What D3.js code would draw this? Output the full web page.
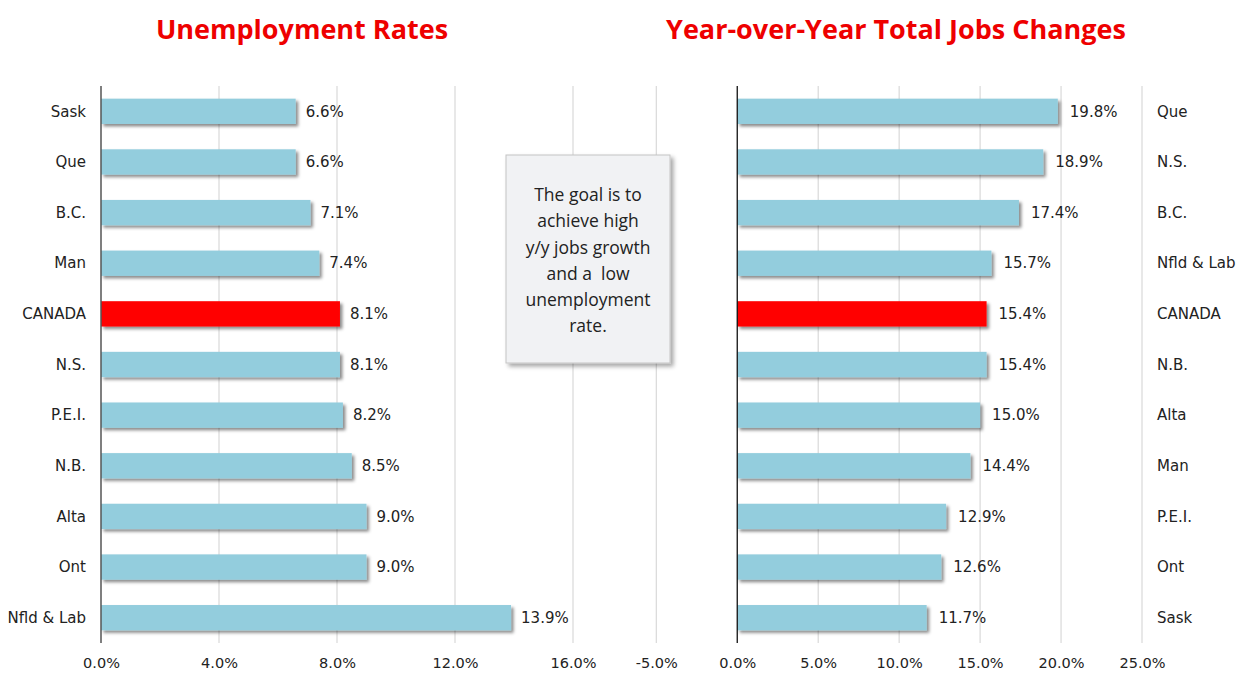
<!DOCTYPE html>
<html><head><meta charset="utf-8">
<script src="https://cdn.jsdelivr.net/npm/d3@7"></script>
<style>body{margin:0;background:#fff;}svg{display:block;}</style>
</head><body>
<svg id="c" width="1238" height="673"></svg>
<script>
const leftCats = ["Sask","Que","B.C.","Man","CANADA","N.S.","P.E.I.","N.B.","Alta","Ont","Nfld & Lab"];
const leftVals = [6.6,6.6,7.1,7.4,8.1,8.1,8.2,8.5,9.0,9.0,13.9];
const rightCats = ["Que","N.S.","B.C.","Nfld & Lab","CANADA","N.B.","Alta","Man","P.E.I.","Ont","Sask"];
const rightVals = [19.8,18.9,17.4,15.7,15.4,15.4,15.0,14.4,12.9,12.6,11.7];
const leftTicks = [0,4,8,12,16];
const rightTicks = [-5,0,5,10,15,20,25];
const titles = ["Unemployment Rates","Year-over-Year Total Jobs Changes"];
const noteLines = ["The goal is to","achieve high","y/y jobs growth","and a  low","unemployment","rate."];

const svg = d3.select("#c");
const FONT = "'DejaVu Sans', sans-serif";
const defs = svg.append("defs");
const f = defs.append("filter").attr("id","sh").attr("x","-5%").attr("y","-30%").attr("width","115%").attr("height","190%");
f.append("feDropShadow").attr("dx",2.5).attr("dy",2.5).attr("stdDeviation",1.6).attr("flood-color","#000").attr("flood-opacity",0.45);
const f2 = defs.append("filter").attr("id","sh2").attr("x","-10%").attr("y","-10%").attr("width","125%").attr("height","125%");
f2.append("feDropShadow").attr("dx",3).attr("dy",3).attr("stdDeviation",2).attr("flood-color","#000").attr("flood-opacity",0.35);

const plotTop = 86, plotBottom = 643;
const yL = d3.scaleBand().domain(leftCats).range([plotTop,plotBottom]).paddingInner(0.5).paddingOuter(0.25);
const yR = d3.scaleBand().domain(rightCats).range([plotTop,plotBottom]).paddingInner(0.5).paddingOuter(0.25);
const xL = d3.scaleLinear().domain([0,16]).range([101,573]);
const xR = d3.scaleLinear().domain([-5,25]).range([656.3,1142]);
const blue = "#93cddd", red = "#ff0000";

// gridlines
svg.append("g").selectAll("line").data(leftTicks.filter(d=>d!==0)).join("line")
  .attr("x1",d=>xL(d)).attr("x2",d=>xL(d)).attr("y1",plotTop).attr("y2",plotBottom)
  .attr("stroke","#d9d9d9").attr("stroke-width",1.2);
svg.append("g").selectAll("line").data(rightTicks.filter(d=>d!==0)).join("line")
  .attr("x1",d=>xR(d)).attr("x2",d=>xR(d)).attr("y1",plotTop).attr("y2",plotBottom)
  .attr("stroke","#d9d9d9").attr("stroke-width",1.2);

// axes tick labels
const axL = d3.axisBottom(xL).tickValues(leftTicks).tickSize(0).tickFormat(d=>d.toFixed(1)+"%");
const gxL = svg.append("g").attr("transform",`translate(0,${plotBottom})`).call(axL);
const axR = d3.axisBottom(xR).tickValues(rightTicks).tickSize(0).tickFormat(d=>d.toFixed(1)+"%");
const gxR = svg.append("g").attr("transform",`translate(0,${plotBottom})`).call(axR);
[gxL,gxR].forEach(g=>{g.select(".domain").remove();
  g.selectAll("text").attr("dy",0).attr("y",25).attr("font-size",14.5).attr("font-family",FONT).attr("fill","#222");});

// bars
svg.append("g").selectAll("rect").data(leftCats).join("rect")
  .attr("x",xL(0)).attr("y",d=>yL(d)).attr("width",(d,i)=>xL(leftVals[i])-xL(0)).attr("height",yL.bandwidth())
  .attr("fill",d=>d==="CANADA"?red:blue).attr("filter","url(#sh)");
svg.append("g").selectAll("rect").data(rightCats).join("rect")
  .attr("x",xR(0)).attr("y",d=>yR(d)).attr("width",(d,i)=>xR(rightVals[i])-xR(0)).attr("height",yR.bandwidth())
  .attr("fill",d=>d==="CANADA"?red:blue).attr("filter","url(#sh)");

// value labels
svg.append("g").selectAll("text").data(leftCats).join("text")
  .attr("x",(d,i)=>xL(leftVals[i])+10).attr("y",d=>yL(d)+yL.bandwidth()/2).attr("dy","0.35em")
  .attr("font-size",15).attr("font-family",FONT).attr("fill","#222").text((d,i)=>leftVals[i].toFixed(1)+"%");
svg.append("g").selectAll("text").data(rightCats).join("text")
  .attr("x",(d,i)=>xR(rightVals[i])+12).attr("y",d=>yR(d)+yR.bandwidth()/2).attr("dy","0.35em")
  .attr("font-size",15).attr("font-family",FONT).attr("fill","#222").text((d,i)=>rightVals[i].toFixed(1)+"%");

// category labels
svg.append("g").selectAll("text").data(leftCats).join("text")
  .attr("x",86).attr("y",d=>yL(d)+yL.bandwidth()/2).attr("dy","0.35em").attr("text-anchor","end")
  .attr("font-size",15).attr("font-family",FONT).attr("fill","#222").text(d=>d);
svg.append("g").selectAll("text").data(rightCats).join("text")
  .attr("x",1157).attr("y",d=>yR(d)+yR.bandwidth()/2).attr("dy","0.35em")
  .attr("font-size",15).attr("font-family",FONT).attr("fill","#222").text(d=>d);

// axis lines
svg.append("line").attr("x1",xL(0)).attr("x2",xL(0)).attr("y1",plotTop).attr("y2",plotBottom).attr("stroke","#555").attr("stroke-width",1.5);
svg.append("line").attr("x1",xR(0)).attr("x2",xR(0)).attr("y1",plotTop).attr("y2",plotBottom).attr("stroke","#111").attr("stroke-width",1.3);

// titles
svg.append("text").attr("x",302).attr("y",39).attr("text-anchor","middle").attr("font-size",27).attr("font-weight","bold")
  .attr("font-family","'Open Sans', sans-serif").attr("fill","#ee0000").text(titles[0]);
svg.append("text").attr("x",896).attr("y",39).attr("text-anchor","middle").attr("font-size",27).attr("font-weight","bold")
  .attr("font-family","'Open Sans', sans-serif").attr("fill","#ee0000").text(titles[1]);

// note box
svg.append("rect").attr("x",506).attr("y",155).attr("width",164).attr("height",208)
  .attr("fill","#f1f2f4").attr("stroke","#c4c4c4").attr("stroke-width",1).attr("filter","url(#sh2)");
svg.append("g").selectAll("text").data(noteLines).join("text")
  .attr("x",588).attr("y",(d,i)=>195+i*26.2).attr("dy","0.35em").attr("text-anchor","middle")
  .style("white-space","pre")
  .attr("font-size",17.5).attr("font-family","'Open Sans', sans-serif").attr("fill","#222").text(d=>d);
</script>
</body></html>
